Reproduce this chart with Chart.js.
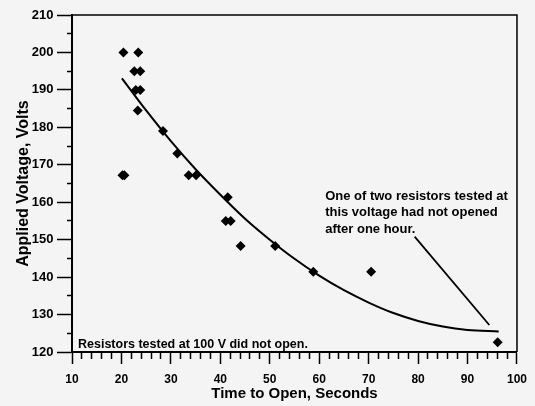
<!DOCTYPE html>
<html>
<head>
<meta charset="utf-8">
<script src="https://cdn.jsdelivr.net/npm/chart.js@4/dist/chart.umd.min.js"></script>
<style>
  body { margin: 0; background: #f4f4f4; }
  #wrap { width: 535px; height: 406px; }
</style>
</head>
<body>
<div id="wrap"><canvas id="voltChart"></canvas></div>
<script>
// test points: time to open (s) against applied voltage (V)
const timeSec = [20.4, 23.4, 22.6, 23.8, 22.9, 23.8, 23.3, 28.4, 31.3, 20.2, 20.6, 33.6, 35.1,
                 41.5, 41.1, 42.1, 44.1, 51.1, 58.8, 70.5, 96.1];
const voltage = [200, 200, 195, 195, 190, 190, 184.5, 179, 173, 167.2, 167.2, 167.2, 167.2,
                 161.3, 155, 155, 148.3, 148.3, 141.4, 141.4, 122.6];

// fitted curve
const fitTime = [20.1, 25, 30, 35, 40, 45, 50, 55, 60, 65, 70, 75, 80, 85, 90, 96.3];
const fitVolt = [193.1, 184.5, 176.3, 168.8, 162, 155.6, 150, 144.9, 140.4, 136.5, 133.2,
                 130.4, 128.3, 126.8, 125.9, 125.5];

// leader line from the note down to the last point
const leaderTime = [79.3, 94.4];
const leaderVolt = [150.8, 127.2];

const xLabels = [10, 20, 30, 40, 50, 60, 70, 80, 90, 100];
const yLabels = [120, 130, 140, 150, 160, 170, 180, 190, 200, 210];

const noteLines = ["One of two resistors tested at", "this voltage had not opened", "after one hour."];
const bottomNote = "Resistors tested at 100 V did not open.";

const FONT = '"Liberation Sans", Arial, sans-serif';

function toPoints(xs, ys) {
    return xs.map((v, i) => ({ x: v, y: ys[i] }));
}

const notesPlugin = {
    id: 'notes',
    afterDraw(chart) {
        const { ctx, chartArea: a, scales: { x, y } } = chart;
        ctx.save();
        // top and right frame
        ctx.strokeStyle = '#000';
        ctx.lineWidth = 1.5;
        ctx.beginPath();
        ctx.moveTo(a.left, a.top);
        ctx.lineTo(a.right, a.top);
        ctx.lineTo(a.right, a.bottom);
        ctx.stroke();

        ctx.fillStyle = '#000';
        ctx.textBaseline = 'alphabetic';
        ctx.font = 'bold 13px ' + FONT;
        const nx = x.getPixelForValue(61.2);
        const ny = y.getPixelForValue(160.6);
        noteLines.forEach((t, i) => ctx.fillText(t, nx, ny + i * 16.5));

        ctx.font = 'bold 12.5px ' + FONT;
        ctx.fillText(bottomNote, a.left + 6, a.bottom - 4);
        ctx.restore();
    }
};

const ctx = document.getElementById("voltChart").getContext("2d");

new Chart(ctx, {
    type: "scatter",
    data: {
        datasets: [
            {
                label: "Tests",
                data: toPoints(timeSec, voltage),
                pointStyle: "rectRot",
                pointRadius: 5,
                pointBackgroundColor: "#000",
                pointBorderWidth: 0
            },
            {
                type: "line",
                label: "Fit",
                data: toPoints(fitTime, fitVolt),
                borderColor: "#000",
                borderWidth: 2,
                pointRadius: 0,
                cubicInterpolationMode: "monotone",
                fill: false
            },
            {
                type: "line",
                label: "Leader",
                data: toPoints(leaderTime, leaderVolt),
                borderColor: "#000",
                borderWidth: 1.8,
                pointRadius: 0,
                fill: false
            }
        ]
    },
    options: {
        responsive: true,
        maintainAspectRatio: false,
        animation: false,
        layout: { padding: { left: 0, right: 13, top: 15, bottom: 0 } },
        plugins: {
            legend: { display: false },
            tooltip: { enabled: false }
        },
        scales: {
            x: {
                type: "linear",
                min: 10,
                max: 100,
                afterFit: s => { s.height = 54; },
                border: { color: "#000", width: 2 },
                grid: {
                    drawOnChartArea: false,
                    tickLength: 12,
                    tickColor: "#000",
                    tickWidth: 1.5,
                    tickBorderDash: c => xLabels.includes(c.tick.value) ? [] : [6, 100]
                },
                ticks: {
                    stepSize: 2,
                    autoSkip: false,
                    maxRotation: 0,
                    padding: 8,
                    color: "#000",
                    font: { family: FONT, size: 12, weight: "bold" },
                    callback: v => xLabels.includes(v) ? v : ""
                },
                title: {
                    display: true,
                    text: "Time to Open, Seconds",
                    color: "#000",
                    font: { family: FONT, size: 15, weight: "bold" },
                    padding: { top: 0, bottom: 3 }
                }
            },
            y: {
                type: "linear",
                min: 120,
                max: 210,
                afterFit: s => { s.width = 72; },
                border: { color: "#000", width: 2 },
                grid: {
                    drawOnChartArea: false,
                    tickLength: 15,
                    tickColor: "#000",
                    tickWidth: 1.5,
                    tickBorderDash: c => yLabels.includes(c.tick.value) ? [] : [0, 10, 5, 100]
                },
                ticks: {
                    stepSize: 5,
                    autoSkip: false,
                    padding: 3.5,
                    color: "#000",
                    font: { family: FONT, size: 13, weight: "bold" },
                    callback: v => yLabels.includes(v) ? v : ""
                },
                title: {
                    display: true,
                    text: "Applied Voltage, Volts",
                    color: "#000",
                    font: { family: FONT, size: 16, weight: "bold" },
                    padding: { top: 14, bottom: 0 }
                }
            }
        }
    },
    plugins: [notesPlugin]
});
</script>
</body>
</html>
